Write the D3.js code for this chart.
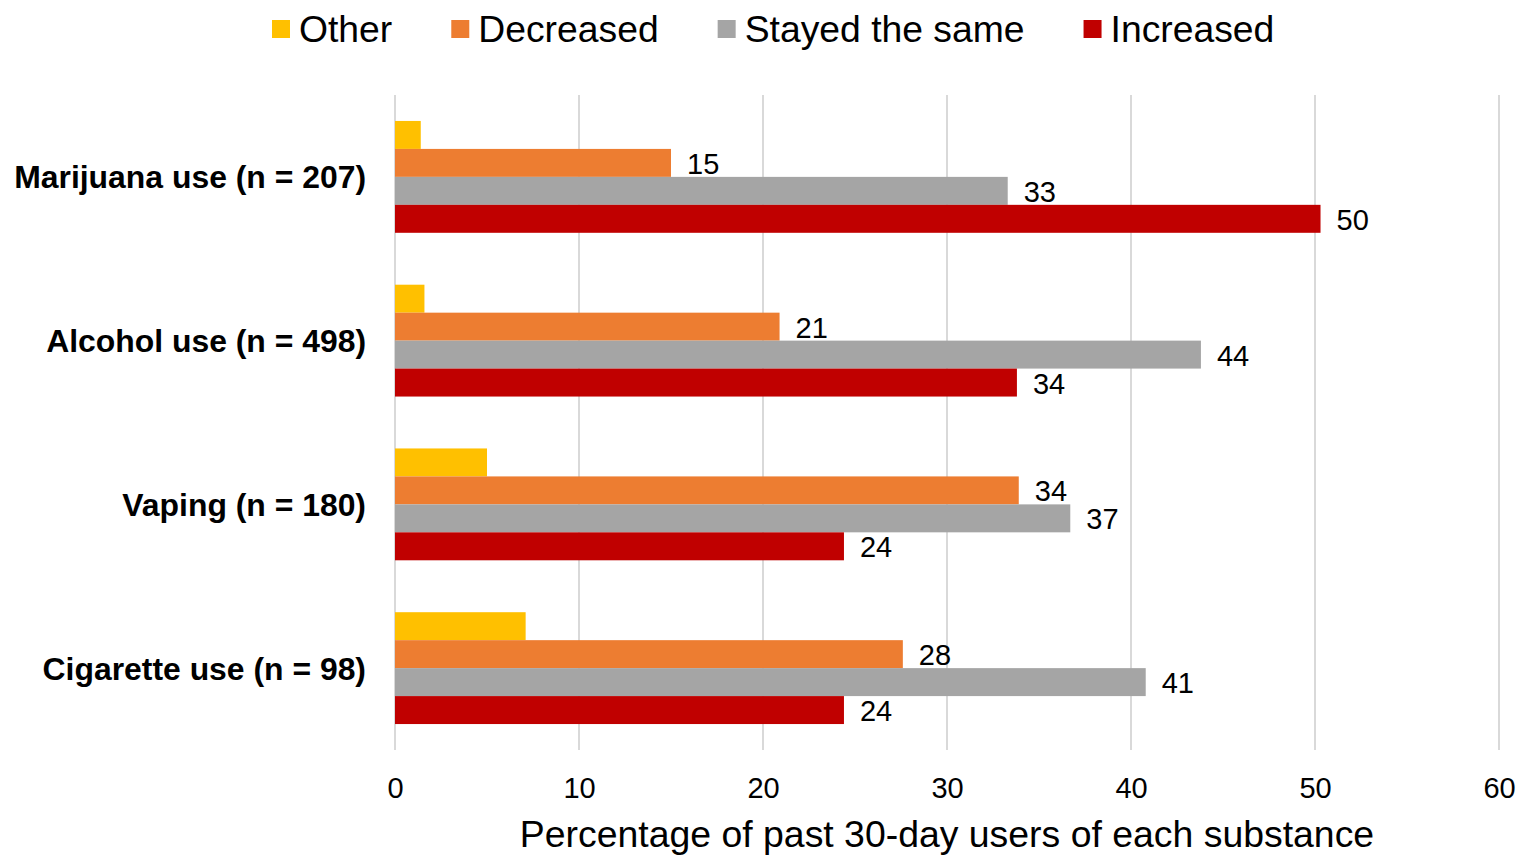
<!DOCTYPE html>
<html>
<head>
<meta charset="utf-8">
<script src="https://cdn.jsdelivr.net/npm/d3@7/dist/d3.min.js"></script>
<style>
  html, body { margin: 0; padding: 0; background: #fff; }
  svg { display: block; font-family: "Liberation Sans", Arial, sans-serif; }
</style>
</head>
<body>
<svg id="chart" width="1527" height="858"></svg>
<script>
// Substances surveyed (top to bottom)
const categories = [
  "Marijuana use (n = 207)",
  "Alcohol use (n = 498)",
  "Vaping (n = 180)",
  "Cigarette use (n = 98)"
];

// Response groups, in legend / bar order
const seriesNames = ["Other", "Decreased", "Stayed the same", "Increased"];
const seriesColors = ["#FFC000", "#ED7D31", "#A5A5A5", "#C00000"];

// Percentage of past 30-day users per response, one value per substance
const otherValues     = [1.4, 1.6, 5.0, 7.1];
const decreasedValues = [15.0, 20.9, 33.9, 27.6];
const stayedValues    = [33.3, 43.8, 36.7, 40.8];
const increasedValues = [50.3, 33.8, 24.4, 24.4];

// Which series carry a data label
const labelled = [false, true, true, true];

const xTicks = [0, 10, 20, 30, 40, 50, 60];
const xTitle = "Percentage of past 30-day users of each substance";

const seriesValues = [otherValues, decreasedValues, stayedValues, increasedValues];

const svg = d3.select("#chart");
const margin = { left: 395, right: 28, top: 95, bottom: 108 };
const W = 1527, H = 858;

const x = d3.scaleLinear().domain([0, 60]).range([margin.left, W - margin.right]);
const y0 = d3.scaleBand().domain(categories).range([margin.top, H - margin.bottom]).paddingInner(0.317).paddingOuter(0.1585);
const y1 = d3.scaleBand().domain(seriesNames).range([0, y0.bandwidth()]);

// Vertical gridlines
svg.append("g")
  .selectAll("line")
  .data(xTicks)
  .join("line")
  .attr("x1", d => x(d)).attr("x2", d => x(d))
  .attr("y1", margin.top).attr("y2", H - margin.bottom)
  .attr("stroke", "#d9d9d9")
  .attr("stroke-width", 2);

// Bars
const groups = svg.append("g")
  .selectAll("g")
  .data(categories)
  .join("g")
  .attr("transform", d => `translate(0,${y0(d)})`);

groups.each(function(cat, ci) {
  const g = d3.select(this);
  seriesNames.forEach((s, si) => {
    const v = seriesValues[si][ci];
    g.append("rect")
      .attr("x", x(0))
      .attr("y", y1(s))
      .attr("width", x(v) - x(0))
      .attr("height", y1.bandwidth())
      .attr("fill", seriesColors[si]);
    if (labelled[si]) {
      g.append("text")
        .attr("x", x(v) + 16)
        .attr("y", y1(s) + y1.bandwidth() / 2 + 11)
        .attr("font-size", 29)
        .attr("fill", "#000")
        .text(Math.round(v));
    }
  });
});

// X axis (tick labels only)
const xAxis = d3.axisBottom(x).tickValues(xTicks).tickSize(0).tickPadding(0);
const xg = svg.append("g")
  .attr("transform", `translate(0,${H - margin.bottom})`)
  .call(xAxis);
xg.select(".domain").remove();
xg.selectAll("text")
  .attr("y", 48)
  .attr("dy", 0)
  .attr("font-size", 29)
  .attr("font-family", "Liberation Sans, Arial, sans-serif")
  .attr("fill", "#000");

// Axis title
svg.append("text")
  .attr("x", (x(0) + x(60)) / 2)
  .attr("y", 847)
  .attr("text-anchor", "middle")
  .attr("font-size", 37.4)
  .attr("fill", "#000")
  .text(xTitle);

// Category labels
const yAxis = d3.axisLeft(y0).tickSize(0).tickPadding(29);
const yg = svg.append("g")
  .attr("transform", `translate(${x(0)},0)`)
  .call(yAxis);
yg.select(".domain").remove();
yg.selectAll("text")
  .attr("font-size", 31.9)
  .attr("font-weight", "bold")
  .attr("font-family", "Liberation Sans, Arial, sans-serif")
  .attr("dy", "0.36em")
  .attr("fill", "#000");

// Legend
const legend = svg.append("g");
let lx = 272;
seriesNames.forEach((s, i) => {
  legend.append("rect")
    .attr("x", lx).attr("y", 20)
    .attr("width", 18).attr("height", 18)
    .attr("fill", seriesColors[i]);
  const t = legend.append("text")
    .attr("x", lx + 27).attr("y", 42)
    .attr("font-size", 37.3)
    .attr("fill", "#000")
    .text(s);
  lx += 27 + t.node().getComputedTextLength() + 59;
});
</script>
</body>
</html>
